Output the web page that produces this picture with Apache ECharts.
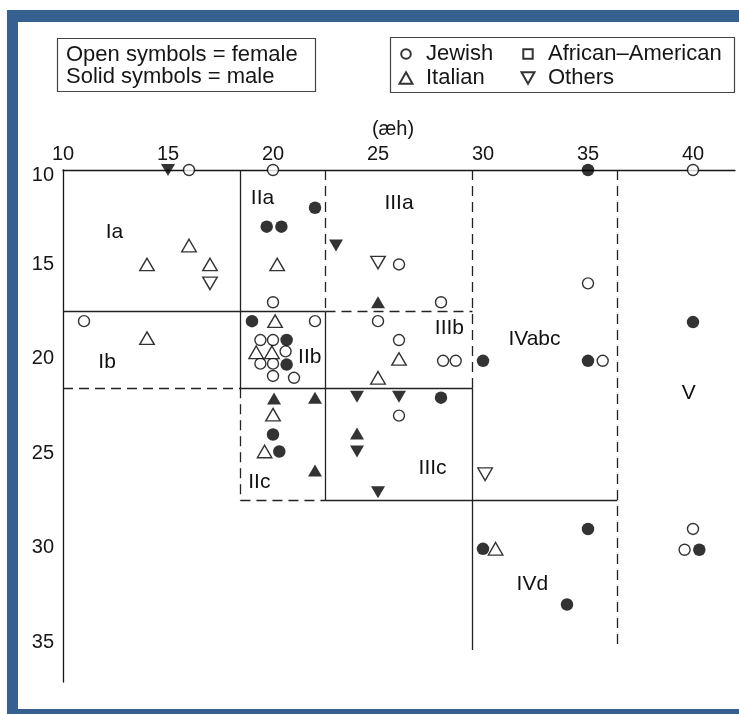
<!DOCTYPE html>
<html>
<head>
<meta charset="utf-8">
<script src="https://cdn.jsdelivr.net/npm/echarts@6/dist/echarts.min.js"></script>
<style>
  html, body { margin: 0; padding: 0; background: #fff; }
  #chart { width: 739px; height: 714px; }
</style>
</head>
<body>
<div id="chart"></div>
<script>
// Tick labels on both axes
const xTicks = [10, 15, 20, 25, 30, 35, 40];
const yTicks = [10, 15, 20, 25, 30, 35];

// Speakers' (æh) positions: [horizontal index, vertical index]
const jewishFemale = [
  [16, 10], [20, 10], [40, 10], [20, 17], [11, 18], [22, 18],
  [19.4, 19], [20, 19], [20.6, 19.6], [19.4, 20.25], [20, 20.25], [20, 20.9], [21, 21],
  [26, 15], [28, 17], [25, 18], [26, 19], [28.1, 20.1], [28.7, 20.1],
  [35, 16], [35.7, 20.1], [26, 23], [40, 29], [39.6, 30.1]
];
const jewishMale = [
  [35, 10], [22, 12], [19.7, 13], [20.4, 13], [19, 18], [20.65, 19], [20.65, 20.3],
  [30, 20.1], [40, 18.05], [35, 20.1], [28, 22.05], [20, 24], [20.3, 24.9],
  [30, 30.05], [35, 29], [34, 33], [40.3, 30.1]
];
const italianFemale = [
  [16, 14], [14, 15], [17, 15], [20.2, 15], [14, 18.9], [20.1, 18],
  [19.2, 19.65], [19.95, 19.65], [26, 20], [25, 21], [20, 22.95], [19.6, 24.9], [30.6, 30.05]
];
const italianMale = [
  [25, 17], [20.05, 22.1], [22, 22.05], [24, 23.95], [22, 25.9]
];
const othersFemale = [
  [17, 16], [25, 14.9], [30.1, 26.1]
];
const othersMale = [
  [15, 10], [23, 14], [24, 22], [26, 22], [24, 24.9], [25, 27.05]
];
const africanAmericanFemale = [];
const africanAmericanMale = [];

// Class boundaries in (æh) coordinates: [from, to]
const solidBoundaries = [
  [[18.45, 10], [18.45, 21.55]],
  [[10, 17.5], [22.5, 17.5]],
  [[22.5, 17.5], [22.5, 27.5]],
  [[18.45, 21.55], [29.5, 21.55]],
  [[29.5, 21.55], [29.5, 35.4]],
  [[22.5, 27.5], [36.4, 27.5]]
];
const dashedBoundaries = [
  [[22.5, 10], [22.5, 17.5]],
  [[22.5, 17.5], [29.5, 17.5]],
  [[10, 21.55], [18.45, 21.55]],
  [[29.5, 10], [29.5, 21.55]],
  [[18.45, 21.55], [18.45, 27.5]],
  [[18.45, 27.5], [22.5, 27.5]],
  [[36.4, 10], [36.4, 35.4]]
];

// Class names and where they sit
const regionNames = ['Ia', 'Ib', 'IIa', 'IIb', 'IIc', 'IIIa', 'IIIb', 'IIIc', 'IVabc', 'IVd', 'V'];
const regionSpots = [
  [12.45, 13.3], [12.1, 20.15], [19.5, 11.5], [21.75, 19.9], [19.35, 26.5],
  [26.0, 11.75], [28.4, 18.4], [27.6, 25.8], [32.45, 18.95], [32.35, 31.95], [39.8, 21.8]
];

const FONT = '"Liberation Sans", Arial, Helvetica, sans-serif';
const INK = '#161616';
const MARK = '#000';
const FRAME = '#35608f';

// Legend icons drawn inside a 22x14 box, symbol centred at (7,7)
const ICON_CIRCLE = 'path://M0,0 M22,14 M11.8,7 A4.8,4.8 0 1 1 2.2,7 A4.8,4.8 0 1 1 11.8,7 Z';
const ICON_SQUARE = 'path://M0,0 M22,14 M2.3,2.3 L11.7,2.3 L11.7,11.7 L2.3,11.7 Z';
const ICON_UP = 'path://M0,0 M22,14 M7,1.2 L13.5,12.8 L0.5,12.8 Z';
const ICON_DOWN = 'path://M0,0 M22,14 M0.5,1.2 L13.5,1.2 L7,12.8 Z';

const openStyle = { color: '#fff', borderColor: MARK, borderWidth: 1.4 };
const solidStyle = { color: MARK, borderWidth: 0 };

function group(name, data, symbol, size, rotate, style) {
  return {
    name: name, type: 'scatter', data: data,
    symbol: symbol, symbolSize: size, symbolRotate: rotate,
    itemStyle: style, z: 4, animation: false,
    emphasis: { disabled: true }
  };
}

const legendText = { fontSize: 22, lineHeight: 24, color: INK, fontFamily: FONT };

const option = {
  animation: false,
  backgroundColor: '#fff',
  textStyle: { fontFamily: FONT },
  title: {
    text: 'Open symbols = female\nSolid symbols = male',
    left: 66, top: 44, padding: 0,
    textStyle: { fontSize: 22, fontWeight: 'normal', lineHeight: 21.8, color: INK, fontFamily: FONT }
  },
  legend: [
    {
      data: [{ name: 'Jewish', icon: ICON_CIRCLE }, { name: 'Italian', icon: ICON_UP }],
      orient: 'vertical', left: 398, top: 42, padding: 0, itemGap: 0,
      itemWidth: 22, itemHeight: 14, selectedMode: false, textStyle: legendText
    },
    {
      data: [{ name: 'African–American', icon: ICON_SQUARE }, { name: 'Others', icon: ICON_DOWN }],
      orient: 'vertical', left: 520, top: 42, padding: 0, itemGap: 0,
      itemWidth: 22, itemHeight: 14, selectedMode: false, textStyle: legendText
    }
  ],
  grid: { left: 63, top: 170, width: 672, height: 512, containLabel: false },
  xAxis: {
    type: 'value', position: 'top', min: 10, max: 42, interval: 5,
    name: '(æh)', nameLocation: 'middle', nameGap: 30,
    nameTextStyle: { fontSize: 20, color: INK, fontFamily: FONT, padding: [0, 12, 0, 0] },
    axisLine: { show: true, onZero: false, lineStyle: { color: INK, width: 1.3 } },
    axisTick: { show: false },
    splitLine: { show: false },
    axisLabel: {
      fontSize: 20, color: INK, fontFamily: FONT, margin: 6,
      formatter: v => (xTicks.indexOf(v) >= 0 ? String(v) : '')
    }
  },
  yAxis: {
    type: 'value', inverse: true, min: 10, max: 37.1, interval: 5,
    axisLine: { show: true, onZero: false, lineStyle: { color: INK, width: 1.3 } },
    axisTick: { show: false },
    splitLine: { show: false },
    axisLabel: {
      fontSize: 20, color: INK, fontFamily: FONT, margin: 9,
      // the top label sits a little lower so it clears the horizontal scale
      formatter: v => (yTicks.indexOf(v) < 0 ? '' : (v === yTicks[0] ? '{low|' + v + '}' : String(v))),
      rich: { low: { fontSize: 20, color: INK, fontFamily: FONT, padding: [11, 0, 0, 0] } }
    }
  },
  graphic: [
    { type: 'rect', silent: true, shape: { x: 7, y: 10, width: 732, height: 12 }, style: { fill: FRAME } },
    { type: 'rect', silent: true, shape: { x: 7, y: 10, width: 11, height: 704 }, style: { fill: FRAME } },
    { type: 'rect', silent: true, shape: { x: 7, y: 709, width: 732, height: 5 }, style: { fill: FRAME } },
    { type: 'rect', silent: true, shape: { x: 57.5, y: 38.5, width: 258, height: 53 }, style: { fill: 'none', stroke: '#444', lineWidth: 1.2 } },
    { type: 'rect', silent: true, shape: { x: 390.5, y: 37.5, width: 344, height: 55 }, style: { fill: 'none', stroke: '#444', lineWidth: 1.2 } }
  ],
  series: [
    {
      name: 'classes', type: 'scatter', silent: true, z: 2,
      symbolSize: 1, itemStyle: { color: 'rgba(0,0,0,0)' },
      data: regionNames.map((n, i) => ({ name: n, value: regionSpots[i] })),
      label: {
        show: true, position: 'inside', formatter: '{b}', opacity: 1,
        textBorderWidth: 0, fontSize: 21, color: '#111', fontFamily: FONT
      },
      markLine: {
        silent: true, animation: false, symbol: ['none', 'none'],
        label: { show: false },
        emphasis: { disabled: true },
        lineStyle: { color: '#222', width: 1.3, type: 'solid' },
        data: solidBoundaries.map(s => [{ coord: s[0] }, { coord: s[1] }]).concat(
          dashedBoundaries.map(s => [{ coord: s[0], lineStyle: { type: [10, 6] } }, { coord: s[1] }]))
      }
    },
    group('Jewish', jewishFemale, 'circle', 11, 0, openStyle),
    group('Italian', italianFemale, 'triangle', [14.5, 12.5], 0, openStyle),
    group('Others', othersFemale, 'triangle', [14.5, 12.5], 180, openStyle),
    group('African–American', africanAmericanFemale, 'rect', 10, 0, openStyle),
    group('Jewish', jewishMale, 'circle', 12.5, 0, solidStyle),
    group('Italian', italianMale, 'triangle', [14, 12], 0, solidStyle),
    group('Others', othersMale, 'triangle', [14, 12], 180, solidStyle),
    group('African–American', africanAmericanMale, 'rect', 10, 0, solidStyle)
  ]
};

const chart = echarts.init(document.getElementById('chart'), null, { renderer: 'canvas' });
chart.setOption(option);
</script>
</body>
</html>
